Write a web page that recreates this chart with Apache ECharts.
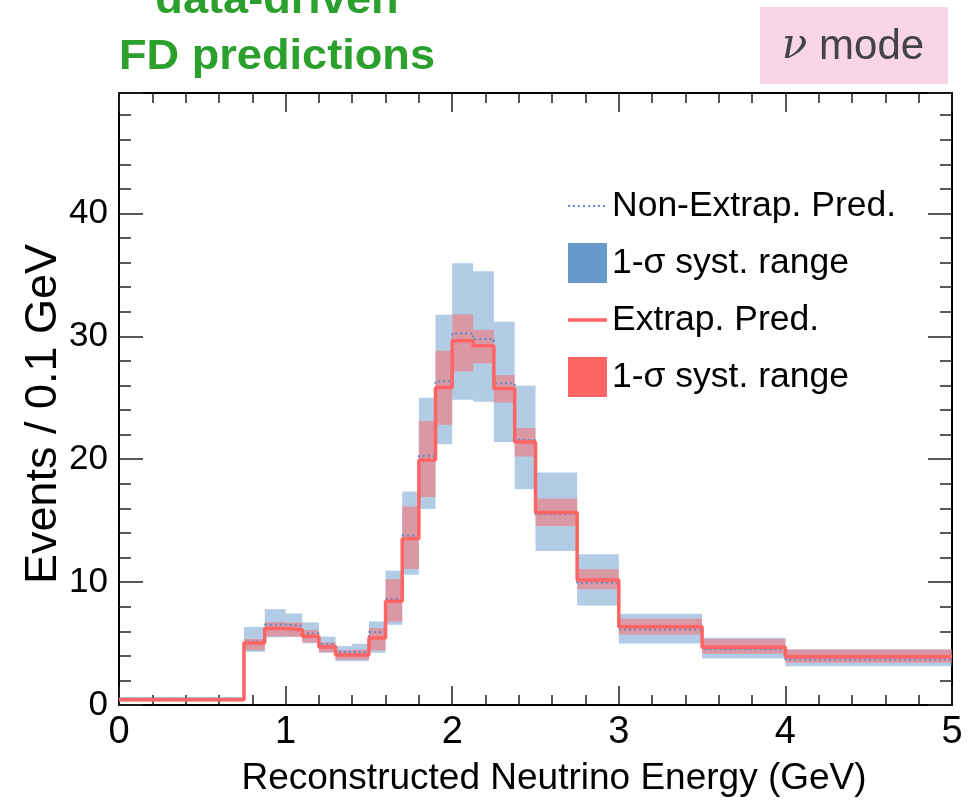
<!DOCTYPE html>
<html>
<head>
<meta charset="utf-8">
<script src="https://cdn.jsdelivr.net/npm/echarts@6/dist/echarts.min.js"></script>
<style>
html,body{margin:0;padding:0;background:#fff;}
#chart{width:980px;height:801px;}
</style>
</head>
<body>
<div id="chart"></div>
<script>
// Bin edges (GeV)
const binEdges = [0, 0.75, 0.875, 1.0, 1.1, 1.2, 1.3, 1.4, 1.5, 1.6, 1.7, 1.8, 1.9, 2.0, 2.125, 2.25, 2.375, 2.5, 2.75, 3.0, 3.5, 4.0, 5.0];
// Extrapolated prediction (Events / 0.1 GeV) and its 1-sigma range
const extrapPred = [0.42, 5.05, 6.22, 6.13, 5.60, 4.71, 4.06, 4.06, 5.45, 8.44, 13.53, 19.94, 25.84, 29.64, 29.23, 25.76, 21.41, 15.66, 10.17, 6.37, 4.70, 3.93];
const extrapLow  = [0.30, 4.46, 5.60, 5.56, 5.10, 4.30, 3.70, 3.70, 4.45, 6.79, 11.06, 16.93, 22.80, 27.14, 27.80, 24.62, 20.22, 14.57, 9.41, 5.74, 4.18, 3.44];
const extrapHigh = [0.55, 5.37, 6.75, 6.70, 6.10, 5.10, 4.45, 4.50, 6.25, 10.24, 16.16, 23.10, 28.82, 31.80, 30.53, 26.84, 22.53, 16.80, 11.04, 7.02, 5.37, 4.52];
// Non-extrapolated prediction and its 1-sigma range
const nonExtrapPred = [0.50, 5.16, 6.54, 6.43, 5.80, 4.93, 4.33, 4.30, 5.93, 8.64, 13.80, 20.27, 26.33, 30.24, 29.78, 26.17, 21.55, 15.52, 9.95, 6.15, 4.55, 3.71];
const nonExtrapLow  = [0.35, 4.33, 5.50, 5.55, 5.02, 4.25, 3.57, 3.57, 4.25, 6.52, 10.60, 15.95, 21.22, 24.83, 24.67, 21.41, 17.56, 12.53, 8.10, 5.01, 3.79, 3.16];
const nonExtrapHigh = [0.65, 6.35, 7.80, 7.45, 6.73, 5.56, 4.79, 4.98, 6.80, 10.92, 17.38, 25.00, 31.75, 35.94, 35.29, 31.19, 25.97, 18.92, 12.26, 7.43, 5.47, 4.52];
// Axis ticks
const xTickValues = [0, 1, 2, 3, 4, 5];
const yTickValues = [0, 10, 20, 30, 40];
const yMax = 49.8;

const FONT = "'Liberation Sans', Arial, Helvetica, sans-serif";
const BLUE = '#6699CC';
const RED = '#FF6464';
const DOT = '#5F8BC4';

function stepData(vals) {
  const d = vals.map((v, i) => [binEdges[i], v]);
  d.push([binEdges[binEdges.length - 1], vals[vals.length - 1]]);
  return d;
}
function bandData(lo, hi) {
  return lo.map((l, i) => [binEdges[i], binEdges[i + 1], l, hi[i]]);
}
function bandRenderer(fill) {
  return function (params, api) {
    const p1 = api.coord([api.value(0), api.value(3)]);
    const p2 = api.coord([api.value(1), api.value(2)]);
    return {
      type: 'rect',
      shape: { x: p1[0], y: p1[1], width: p2[0] - p1[0], height: p2[1] - p1[1] },
      style: { fill: fill }
    };
  };
}
// legend icons: bounding anchors at y=0 and y=40 keep the bar thin
const solidLineIcon = 'path://M0,0h0.01v0.01h-0.01z M0,18.2h39v3.6h-39z M38.99,39.99h0.01v0.01h-0.01z';
let dotted = 'path://M0,0h0.01v0.01h-0.01z M38.99,39.99h0.01v0.01h-0.01z';
for (let x = 0; x < 39; x += 5) { dotted += ' M' + x + ',19h2v2h-2z'; }
const dottedLineIcon = dotted;

const chart = echarts.init(document.getElementById('chart'), null, { renderer: 'canvas' });

const xCommon = {
  type: 'value', min: xTickValues[0], max: xTickValues[xTickValues.length - 1],
  interval: xTickValues[1] - xTickValues[0],
  splitLine: { show: false },
  axisLine: { show: true, onZero: false, lineStyle: { color: '#000', width: 2 } },
  axisTick: { show: true, inside: true, length: 19, lineStyle: { color: '#222', width: 1.5 } },
  minorTick: { show: true, splitNumber: 5, length: 10, lineStyle: { color: '#222', width: 1.5 } }
};
const yCommon = {
  type: 'value', min: yTickValues[0], max: yMax,
  interval: yTickValues[1] - yTickValues[0],
  splitLine: { show: false },
  axisLine: { show: true, onZero: false, lineStyle: { color: '#000', width: 2 } },
  axisTick: { show: true, inside: true, length: 24, lineStyle: { color: '#222', width: 1.5 } },
  minorTick: { show: true, splitNumber: 5, length: 12, lineStyle: { color: '#222', width: 1.5 } }
};

const option = {
  animation: false,
  backgroundColor: '#fff',
  grid: { left: 119, right: 28, top: 93, bottom: 96, containLabel: false },
  xAxis: [
    Object.assign({}, xCommon, {
      position: 'bottom',
      axisLabel: { show: true, fontSize: 38, color: '#000', margin: 9, fontFamily: FONT }
    }),
    Object.assign({}, xCommon, { position: 'top', axisLabel: { show: false } })
  ],
  yAxis: [
    Object.assign({}, yCommon, {
      position: 'left',
      axisLabel: { show: true, fontSize: 35, color: '#000', margin: 11, fontFamily: FONT, showMaxLabel: false }
    }),
    Object.assign({}, yCommon, { position: 'right', axisLabel: { show: false } })
  ],
  legend: {
    orient: 'vertical', left: 563, top: 181,
    itemWidth: 39, itemHeight: 40, itemGap: 17,
    textStyle: { fontSize: 35.5, color: '#000', fontFamily: FONT },
    formatter: function (n) { return n.replace(/\s+$/, ''); },
    data: [
      { name: 'Non-Extrap. Pred.', icon: dottedLineIcon, itemStyle: { color: DOT } },
      { name: '1-σ syst. range', icon: 'rect', itemStyle: { color: BLUE } },
      { name: 'Extrap. Pred.', icon: solidLineIcon, itemStyle: { color: RED } },
      { name: '1-σ syst. range ', icon: 'rect', itemStyle: { color: RED } }
    ]
  },
  series: [
    {
      name: '1-σ syst. range', type: 'custom', xAxisIndex: 0, yAxisIndex: 0,
      itemStyle: { color: BLUE },
      renderItem: bandRenderer('rgba(102,153,204,0.5)'),
      encode: { x: [0, 1], y: [2, 3] },
      data: bandData(nonExtrapLow, nonExtrapHigh), z: 1
    },
    {
      name: '1-σ syst. range ', type: 'custom', xAxisIndex: 0, yAxisIndex: 0,
      itemStyle: { color: RED },
      renderItem: bandRenderer('rgba(255,100,100,0.5)'),
      encode: { x: [0, 1], y: [2, 3] },
      data: bandData(extrapLow, extrapHigh), z: 2
    },
    {
      name: 'Non-Extrap. Pred.', type: 'line', step: 'end', symbol: 'none',
      lineStyle: { color: DOT, width: 2.2, type: [2, 3] },
      itemStyle: { color: DOT },
      data: stepData(nonExtrapPred), z: 3
    },
    {
      name: 'Extrap. Pred.', type: 'line', step: 'end', symbol: 'none',
      lineStyle: { color: RED, width: 3.5 },
      itemStyle: { color: RED },
      data: stepData(extrapPred), z: 4
    }
  ],
  graphic: [
    { type: 'text', x: 554, y: 779, style: { text: 'Reconstructed Neutrino Energy (GeV)', fontSize: 37, fontFamily: FONT, fill: '#000', align: 'center', verticalAlign: 'middle' } },
    { type: 'text', x: 44, y: 414, rotation: Math.PI / 2, style: { text: 'Events / 0.1 GeV', fontSize: 45, fontFamily: FONT, fill: '#000', align: 'center', verticalAlign: 'middle' } },
    { type: 'text', x: 277, y: 1, scaleX: 1.05, style: { text: 'data-driven', fontSize: 43, fontWeight: 'bold', fontFamily: FONT, fill: '#2CA02C', align: 'center', verticalAlign: 'middle' } },
    { type: 'text', x: 277, y: 57, scaleX: 1.05, style: { text: 'FD predictions', fontSize: 43, fontWeight: 'bold', fontFamily: FONT, fill: '#2CA02C', align: 'center', verticalAlign: 'middle' } },
    { type: 'rect', shape: { x: 760, y: 7, width: 188, height: 77 }, style: { fill: '#F9D5E8' } },
    { type: 'text', x: 853, y: 47, style: {
        text: '{i|ν} mode', align: 'center', verticalAlign: 'middle', fill: '#444',
        fontSize: 42, fontFamily: FONT,
        rich: { i: { fontSize: 42, fontStyle: 'italic', fontFamily: "'DejaVu Serif', serif", fill: '#444' } }
      } }
  ]
};
chart.setOption(option);
</script>
</body>
</html>
